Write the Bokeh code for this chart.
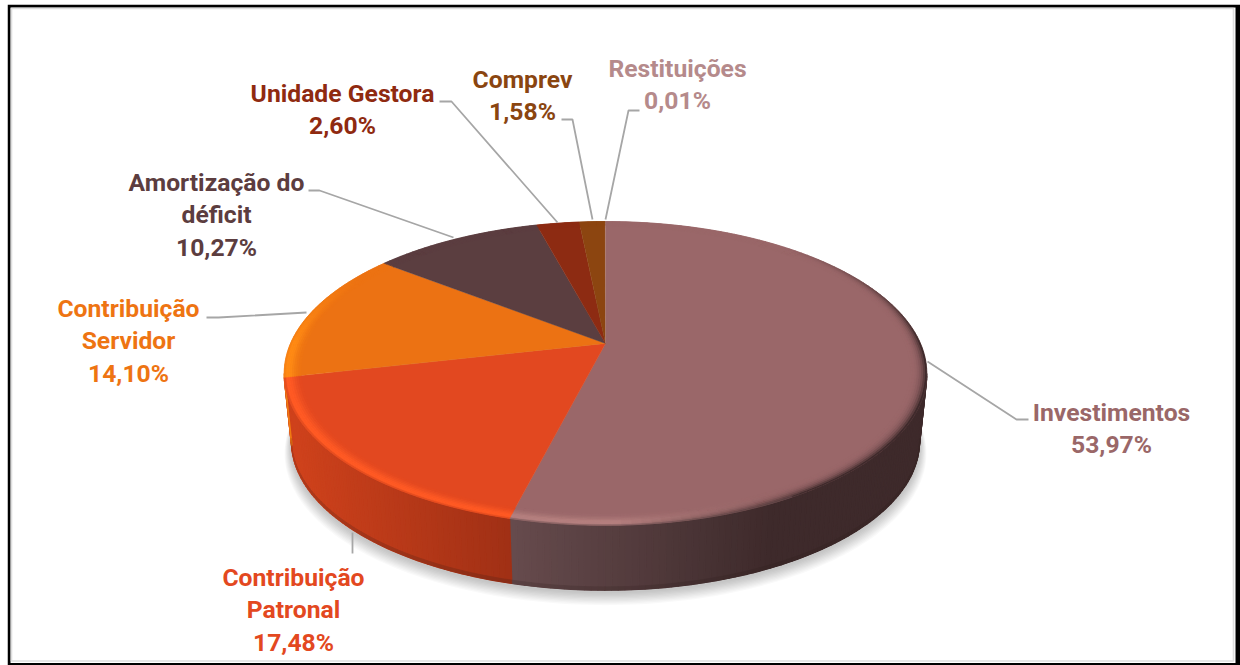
import numpy as np
from bokeh.plotting import figure
from bokeh.models import Range1d, ColumnDataSource
from bokeh.core.properties import value
from bokeh.embed import file_html
from bokeh.resources import INLINE

# ---- data (clockwise from 12 o'clock)
categories = ["Investimentos", "Contribuição Patronal", "Contribuição Servidor",
              "Amortização do déficit", "Unidade Gestora", "Comprev", "Restituições"]
values = [53.97, 17.48, 14.10, 10.27, 2.60, 1.58, 0.01]
label_lines = [["Investimentos"], ["Contribuição", "Patronal"], ["Contribuição", "Servidor"],
               ["Amortização do", "déficit"], ["Unidade Gestora"], ["Comprev"], ["Restituições"]]

# ---- styles
top_colors = ["#9a6769", "#e24820", "#ec7213", "#5b3e40", "#8d2b12", "#8c4510", "#b58a8b"]
text_colors = ["#9a6768", "#e34820", "#ee7412", "#5c3d3f", "#8f2a10", "#8a4510", "#b58a8b"]
side_light = ["#664b4d", "#cf421c", "#f07a12", "#5b3e40", "#8d2b12", "#8c4510", "#b58a8b"]
side_dark = ["#3e2a2b", "#a03015", "#d86a10", "#3e2a2b", "#6d2010", "#6c350c", "#8a6a6a"]
edge_light = ["#b5807f", "#ff5a24", "#ff8a14", "#6b4c4e", "#a03518", "#a05414", "#c09a9a"]

# ---- layout (page pixels)
label_pos = [(1111, 411.5), (293, 576.5), (128, 307.5), (216, 181.5), (342, 92.5), (522, 78.5), (677, 67.5)]
line_step = 32.5
leaders = [[(927, 361), (1016, 419), (1028, 419)],
           [(352, 532), (352, 553)],
           [(306, 312), (218, 317), (206, 317)],
           [(453, 237), (319, 190), (308, 190)],
           [(557, 222), (451, 101), (439, 101)],
           [(592, 219), (572, 119), (561, 119)],
           [(605, 219), (628, 110), (639, 110)]]
CX, CY, A, B, P = 605.0, 343.0, 315.0, 146.0, 0.197
BOT_S, BOT_DY = 0.977, 69.0


def project(theta, r=1.0):
    w = 1 + P * r * np.cos(theta)
    return CX + A * r * np.sin(theta) / w, CY - B * r * np.cos(theta) / w


def bottom(theta, s=BOT_S, dy=BOT_DY):
    x, y = project(theta)
    return CX + (x - CX) * s, CY + (y - CY) * s + dy


def rgb(h):
    return np.array([int(h[i:i + 2], 16) for i in (1, 3, 5)], float)


def mix(c1, c2, t):
    t = float(np.clip(t, 0, 1))
    c = rgb(c1) * (1 - t) + rgb(c2) * t
    return "#%02x%02x%02x" % tuple(int(round(v)) for v in c)


edges = np.concatenate([[0], np.cumsum(values)]) / sum(values) * 2 * np.pi

p = figure(width=1233, height=661, x_range=Range1d(7, 1240), y_range=Range1d(665, 4),
           output_backend="svg", toolbar_location=None, min_border=0,
           background_fill_color="#ffffff", border_fill_color="#ffffff",
           outline_line_color=None, margin=(4, 0, 0, 7))
p.axis.visible = False
p.grid.visible = False

# frame: black band, thin grey inner band, white panel
p.quad(left=[7], right=[1240], top=[4], bottom=[665], fill_color="#000000", line_color=None)
p.quad(left=[10], right=[1235], top=[7], bottom=[662.5], fill_color="#ffffff", line_color=None)
p.quad(left=[11], right=[1233], top=[8], bottom=[660.5], fill_color=None,
       line_color="#dedede", line_width=1.6)

# soft shadow
circle = np.linspace(0, 2 * np.pi, 241)
for k in range(10, 0, -1):
    x, y = bottom(circle, BOT_S + 0.0022 * k, BOT_DY + 0.9 * k + 2)
    p.patch(x, y, fill_color="#000000", fill_alpha=0.022, line_color=None)

# side wall: only the front-facing arc, between the two silhouette angles
face_lo, face_hi = np.pi - np.arccos(P), np.pi + np.arccos(P)
sx, sy, sc = [], [], []
bx, by, bc = [], [], []
for i in range(len(values)):
    lo, hi = max(edges[i], face_lo), min(edges[i + 1], face_hi)
    if hi <= lo:
        continue
    n = max(1, int((hi - lo) / np.radians(1.0)))
    tt = np.linspace(lo, hi, n + 1)
    for a, b in zip(tt[:-1], tt[1:]):
        xa, ya = project(np.array([a, b]))
        xb, yb = bottom(np.array([a, b]))
        if i == 0:
            shade = mix(side_light[0], side_dark[0], ((xa.mean() - 510) / 260))
        elif i == 1:
            shade = mix(side_light[1], side_dark[1], ((xa.mean() - 290) / 220))
        else:
            shade = side_light[i]
        sx.append([xa[0], xa[1], xb[1], xb[0]])
        sy.append([ya[0], ya[1], yb[1], yb[0]])
        sc.append(shade)
        # darker foot of the wall
        f = 0.95
        bx.append([xa[0] + (xb[0] - xa[0]) * f, xa[1] + (xb[1] - xa[1]) * f, xb[1], xb[0]])
        by.append([ya[0] + (yb[0] - ya[0]) * f, ya[1] + (yb[1] - ya[1]) * f, yb[1], yb[0]])
        bc.append(mix(shade, "#2a1a18", 0.2))
p.patches("x", "y", source=ColumnDataSource(dict(x=sx, y=sy, c=sc)),
          fill_color="c", line_color="c", line_width=1.4)
p.patches("x", "y", source=ColumnDataSource(dict(x=bx, y=by, c=bc)),
          fill_color="c", line_color="c", line_width=0.8)

# top face
for i in range(len(values)):
    tt = np.linspace(edges[i], edges[i + 1], max(3, int((edges[i + 1] - edges[i]) / 0.02)))
    x, y = project(tt)
    p.patch(np.r_[CX, x], np.r_[CY, y], fill_color=top_colors[i], line_color=top_colors[i],
            line_width=0.4)

# bevelled rim of the top face: outermost ring first
ring = np.linspace(1.0, 0.95, 9)
for j in range(len(ring) - 1):
    rx, ry, rc = [], [], []
    u = 1 - j / (len(ring) - 1)
    for i in range(len(values)):
        n = max(1, int((edges[i + 1] - edges[i]) / np.radians(1.5)))
        tt = np.linspace(edges[i], edges[i + 1], n + 1)
        for a, b in zip(tt[:-1], tt[1:]):
            deg = np.degrees((a + b) / 2)
            lit = np.clip((deg - 150) / 30, 0, 1) * np.clip((300 - deg) / 30, 0, 1)
            dark = np.clip((deg - 40) / 50, 0, 1) * np.clip((178 - deg) / 30, 0, 1)
            c = mix(top_colors[i], edge_light[i], lit * min(1, (u * 1.5) ** 1.5))
            c = mix(c, side_dark[0], dark * u ** 3)
            if j == 0 and lit > 0:
                c = mix(c, side_light[i], 0.5)
            xa, ya = project(np.array([a, b]), ring[j])
            xb, yb = project(np.array([a, b]), ring[j + 1])
            rx.append([xa[0], xa[1], xb[1], xb[0]])
            ry.append([ya[0], ya[1], yb[1], yb[0]])
            rc.append(c)
    p.patches("x", "y", source=ColumnDataSource(dict(x=rx, y=ry, c=rc)),
              fill_color="c", line_color="c", line_width=0.7)

# leader lines
p.multi_line([[q[0] for q in l] for l in leaders], [[q[1] for q in l] for l in leaders],
             line_color="#a6a6a6", line_width=1.8)

# labels
tx, ty, ts, tc = [], [], [], []
for i, lines in enumerate(label_lines):
    cx, cy = label_pos[i]
    full = lines + [f"{values[i]:.2f}".replace(".", ",") + "%"]
    for j, s in enumerate(full):
        tx.append(cx); ty.append(cy + j * line_step); ts.append(s); tc.append(text_colors[i])
p.text("x", "y", text="t", source=ColumnDataSource(dict(x=tx, y=ty, t=ts, c=tc)),
       text_color="c", text_font=value("Roboto"), text_font_style="bold",
       text_font_size="24.7px", text_align="center", text_baseline="middle")

open("out.html", "w").write(file_html(p, INLINE))
